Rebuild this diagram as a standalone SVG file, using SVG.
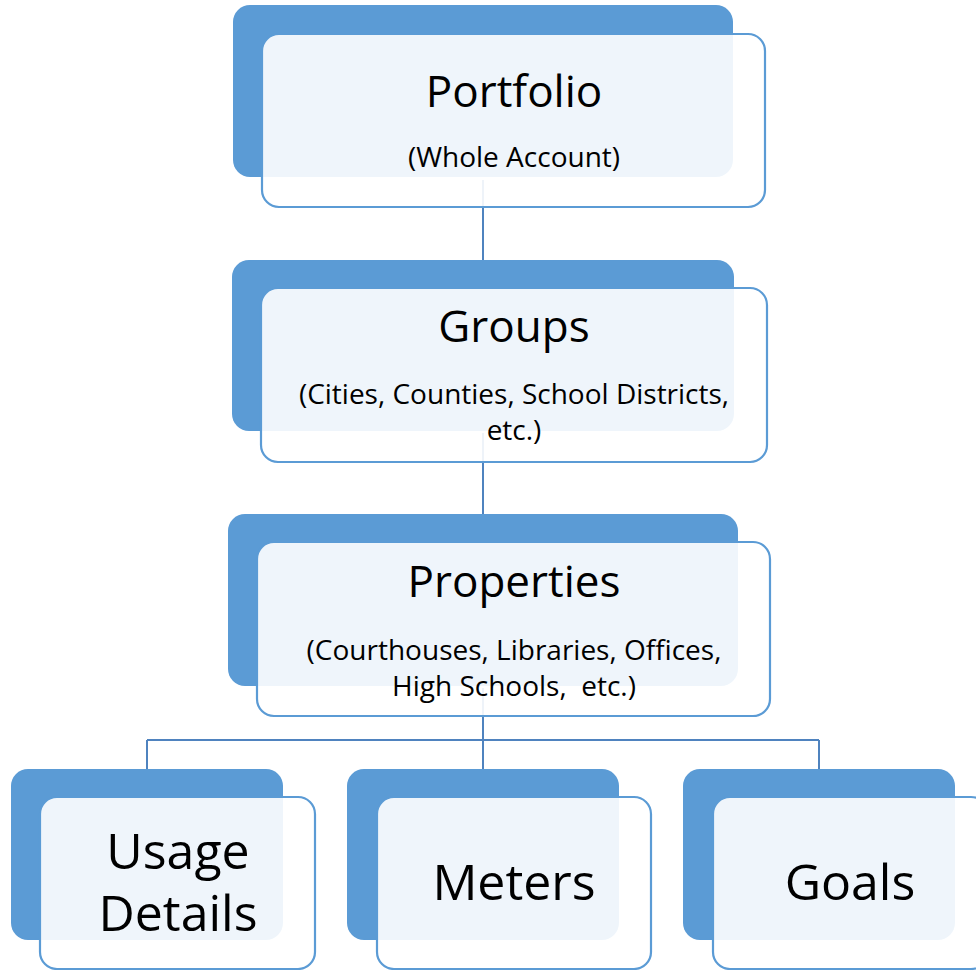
<svg xmlns="http://www.w3.org/2000/svg" width="976" height="970" viewBox="0 0 976 970">
<style>
.back{fill:#5B9BD5;}
.front{fill:#ffffff;fill-opacity:0.9;stroke:#5B9BD5;stroke-width:2.2;}
.conn{fill:none;stroke:#4F83BF;stroke-width:2;}
text{font-family:"Open Sans","Liberation Sans",sans-serif;fill:#000;text-anchor:middle;}
.t1{font-size:44px;}
.t2{font-size:28px;}
.t3{font-size:50px;}
</style>
<rect width="976" height="970" fill="#fff"/>
<g id="connectors">
<path class="conn" d="M483 180V260"/>
<path class="conn" d="M483 433V514"/>
<path class="conn" d="M483 688V769M147 740H819M147 740V769M819 740V769"/>
</g>
<g id="portfolio">
<rect class="back" x="233" y="5" width="500" height="172" rx="17"/>
<rect class="front" x="262" y="34" width="503" height="173" rx="17"/>
<text class="t1" x="514" y="107">Portfolio</text>
<text class="t2" x="514" y="167">(Whole Account)</text>
</g>
<g id="groups">
<rect class="back" x="232" y="260" width="502" height="171" rx="17"/>
<rect class="front" x="261" y="288" width="506" height="174" rx="17"/>
<text class="t1" x="514" y="342">Groups</text>
<text class="t2" x="514" y="404">(Cities, Counties, School Districts,</text>
<text class="t2" x="514" y="440">etc.)</text>
</g>
<g id="properties">
<rect class="back" x="228" y="514" width="510" height="172" rx="17"/>
<rect class="front" x="257" y="542" width="513" height="174" rx="17"/>
<text class="t1" x="514" y="597">Properties</text>
<text class="t2" x="514" y="660">(Courthouses, Libraries, Offices,</text>
<text class="t2" x="514" y="696" style="white-space:pre">High Schools,  etc.)</text>
</g>
<g id="usage">
<rect class="back" x="11" y="769" width="272" height="171" rx="17"/>
<rect class="front" x="40" y="797" width="275" height="172" rx="17"/>
<text class="t3" x="178" y="869">Usage</text>
<text class="t3" x="178" y="931">Details</text>
</g>
<g id="meters">
<rect class="back" x="347" y="769" width="272" height="171" rx="17"/>
<rect class="front" x="377" y="797" width="274" height="172" rx="17"/>
<text class="t3" x="514" y="900">Meters</text>
</g>
<g id="goals">
<rect class="back" x="683" y="769" width="272" height="171" rx="17"/>
<rect class="front" x="713" y="797" width="275" height="172" rx="17"/>
<text class="t3" x="850" y="900">Goals</text>
</g>
</svg>
